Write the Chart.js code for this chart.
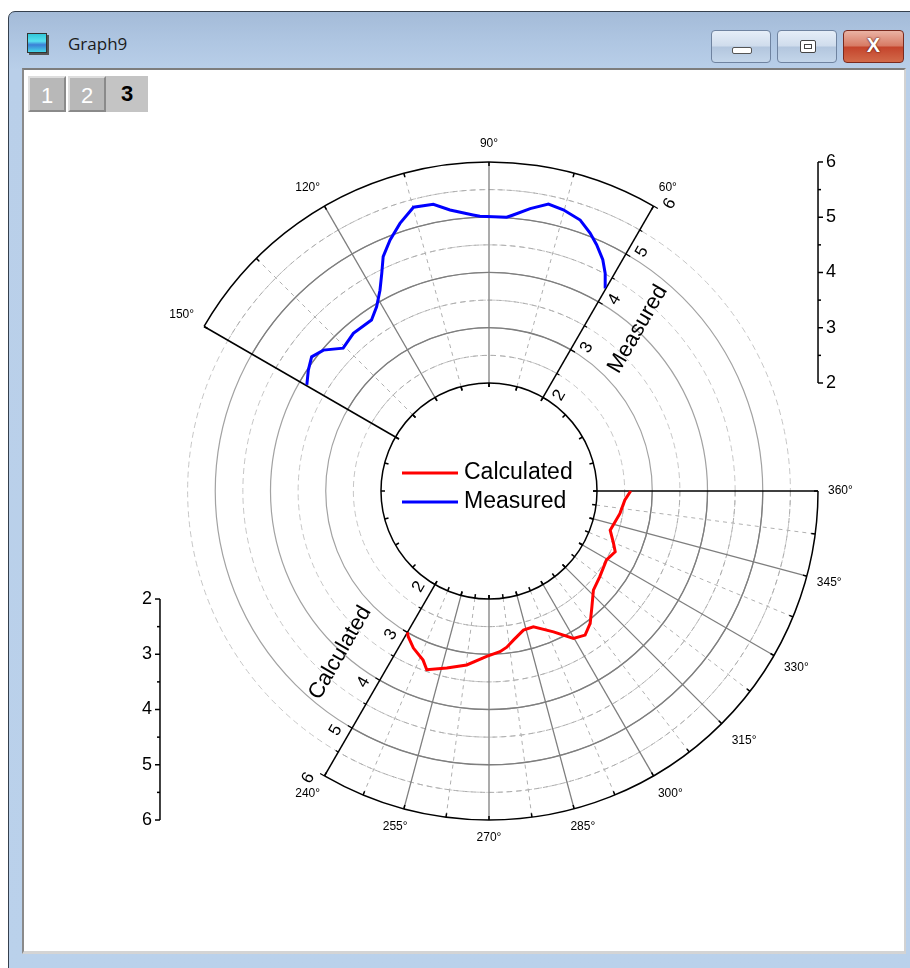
<!DOCTYPE html>
<html><head><meta charset="utf-8">
<script src="https://cdn.jsdelivr.net/npm/chart.js@4.4.1/dist/chart.umd.min.js"></script>
<style>
html,body{margin:0;padding:0;width:910px;height:968px;overflow:hidden;background:#fff;font-family:"Liberation Sans",Arial,sans-serif;}
.abs{position:absolute;box-sizing:border-box;}
#frame{left:8px;top:11px;width:910px;height:970px;border:1px solid #35404e;border-radius:7px 7px 0 0;
 background:linear-gradient(#a4bbd8 0px,#afc6e2 30px,#b9cfe9 58px,#bad1eb 100%);}
#client{left:22px;top:68px;width:884px;height:886px;background:#fff;border-top:2px solid #7d7d7d;border-left:2px solid #8a8a8a;border-right:2px solid #d2d2d2;border-bottom:3px solid #d4d4d4;}
#title{left:68px;top:32px;font-family:"Open Sans","Noto Sans",sans-serif;font-size:17px;color:#1b1b1b;}
#icon{left:27px;top:33px;width:20px;height:20px;border:1px solid #333;background:linear-gradient(#33c6d8,#57e0f0 40%,#3b7fd6 60%,#44d6e8);box-shadow:2px 2px 0 #555;}
.btn{top:30px;height:33px;width:60px;border:1px solid #6f83a0;border-radius:4px;background:linear-gradient(#e6eef8,#cfdcec 48%,#b3c6de 52%,#c4d6ea);}
#bmin{left:711px;}#bmax{left:777px;}
#bclose{left:843px;width:61px;border-color:#7a2a1e;background:linear-gradient(#eab3a4,#d77a64 48%,#c4442c 52%,#d26a4a);}
.ic{position:absolute;box-sizing:border-box;}
.tab{top:76px;height:36px;width:38px;font-size:22px;text-align:center;line-height:36px;}
#t1{left:28px;background:#b8b8b8;color:#fff;border-top:2px solid #dedede;border-left:2px solid #dedede;border-right:2px solid #8a8a8a;border-bottom:2px solid #8a8a8a;}
#t2{left:68px;background:#b8b8b8;color:#fff;border-top:2px solid #dedede;border-left:2px solid #dedede;border-right:2px solid #8a8a8a;border-bottom:2px solid #8a8a8a;}
#t3{left:106px;width:42px;background:#c4c4c4;color:#000;font-weight:bold;}
#c{position:absolute;left:0;top:0;z-index:5;}
</style></head>
<body>
<div id="frame" class="abs"></div>
<div id="client" class="abs"></div>
<div id="icon" class="abs"></div>
<div id="title" class="abs">Graph9</div>
<div id="bmin" class="abs btn"><div class="ic" style="left:20px;top:16px;width:20px;height:7px;border:1px solid #555;border-radius:2px;background:#fff;"></div></div>
<div id="bmax" class="abs btn"><div class="ic" style="left:22px;top:9px;width:16px;height:13px;border:1px solid #444;border-radius:2px;background:#fff;"><div class="ic" style="left:3px;top:3px;width:8px;height:5px;border:1px solid #444;"></div></div></div>
<div id="bclose" class="abs btn"><div class="ic" style="left:0;top:3px;width:59px;text-align:center;font:bold 20px 'Liberation Sans',Arial;color:#fff;text-shadow:0 0 2px #5a1a10,0 0 1px #5a1a10;">X</div></div>
<div id="t1" class="abs tab">1</div>
<div id="t2" class="abs tab">2</div>
<div id="t3" class="abs tab">3</div>
<canvas id="c" width="910" height="968"></canvas>
<script>
// ---------- data ----------
const seriesNames = ['Calculated', 'Measured'];
const measuredAngles = [60.2, 61.9, 63.8, 66.4, 68.6, 71.4, 75.2, 78.3, 81.7, 85.0, 86.3, 91.9, 93.3, 97.9, 101.0, 104.9, 108.4, 111.5, 114.3, 116.2, 118.5, 121.4, 124.5, 130.7, 135.6, 139.6, 142.9, 146.2, 149.8];
const measuredValues = [4.30, 4.51, 4.71, 4.91, 5.06, 5.22, 5.31, 5.35, 5.21, 5.06, 5.01, 5.02, 5.05, 5.18, 5.33, 5.36, 5.15, 4.93, 4.70, 4.44, 4.18, 3.95, 3.80, 3.81, 3.74, 3.98, 4.07, 3.98, 3.86];
const calculatedAngles = [360.0, 356.2, 350.3, 342.1, 337.2, 334.3, 329.6, 322.3, 316.5, 311.6, 307.4, 303.7, 299.8, 294.6, 288.1, 283.9, 279.3, 276.5, 273.9, 269.2, 262.7, 256.6, 250.8, 248.7, 244.3, 241.0, 240.0];
const calculatedValues = [2.61, 2.51, 2.45, 2.35, 2.49, 2.58, 2.51, 2.58, 2.65, 2.85, 3.06, 3.18, 3.12, 2.85, 2.63, 2.64, 2.78, 2.89, 2.96, 3.04, 3.22, 3.34, 3.47, 3.33, 3.20, 3.06, 3.00];
const radialTicks = [2, 3, 4, 5, 6];
const measuredAngleTicks = [60, 90, 120, 150];
const calculatedAngleTicks = [240, 255, 270, 285, 300, 315, 330, 345, 360];

// ---------- layout ----------
const CENTER_PX = [489, 491];
const PX_PER_UNIT = 55.25;
const HOLE = 1.955;            // inner hole radius, in radial units
const R_MIN = 2, R_MAX = 6;
const W = 910, H = 968;
const D = Math.PI / 180;
const rad = v => HOLE + (v - R_MIN);

function toXY(angles, values) {
  return angles.map((a, i) => ({ x: rad(values[i]) * Math.cos(a * D), y: rad(values[i]) * Math.sin(a * D) }));
}

const sectors = [
  { name: 'Measured', from: 60, to: 150, step: 15, labels: measuredAngleTicks, axisAt: 60 },
  { name: 'Calculated', from: 240, to: 360, step: 7.5, labels: calculatedAngleTicks, axisAt: 240 }
];

const FONT = '"Liberation Sans", Arial, sans-serif';

const polarGrid = {
  id: 'polarGrid',
  beforeDatasetsDraw(chart) {
    const { ctx, scales: { x, y } } = chart;
    const cx = x.getPixelForValue(0), cy = y.getPixelForValue(0);
    const S = x.getPixelForValue(1) - cx;
    const rp = v => rad(v) * S;
    const P = (a, r) => [cx + r * Math.cos(a * D), cy - r * Math.sin(a * D)];
    const arc = (r, a1, a2) => { ctx.beginPath(); ctx.arc(cx, cy, r, -a2 * D, -a1 * D); ctx.stroke(); };
    const line = (p, q) => { ctx.beginPath(); ctx.moveTo(p[0], p[1]); ctx.lineTo(q[0], q[1]); ctx.stroke(); };
    ctx.save();
    // full background circles
    for (let v = R_MIN + 0.5; v < R_MAX; v += 0.5) {
      const major = Number.isInteger(v);
      ctx.strokeStyle = major ? '#a2a2a2' : '#c6c6c6';
      ctx.lineWidth = major ? 1.2 : 1;
      ctx.setLineDash(major ? [] : [6, 4]);
      arc(rp(v), 0, 360);
    }
    // sector grids
    sectors.forEach(s => {
      for (let v = R_MIN + 0.5; v < R_MAX; v += 0.5) {
        const major = Number.isInteger(v);
        ctx.strokeStyle = major ? '#7e7e7e' : '#adadad';
        ctx.lineWidth = major ? 1.3 : 1;
        ctx.setLineDash(major ? [] : [5, 4]);
        arc(rp(v), s.from, s.to);
      }
      for (let a = s.from + s.step; a < s.to - 0.01; a += s.step) {
        const major = s.labels.some(l => Math.abs(l - a) < 0.01);
        ctx.strokeStyle = major ? '#7e7e7e' : '#b0b0b0';
        ctx.lineWidth = major ? 1.3 : 1;
        ctx.setLineDash(major ? [] : [4, 4]);
        line(P(a, rp(R_MIN)), P(a, rp(R_MAX)));
      }
    });
    ctx.setLineDash([]);
    // black boundaries
    ctx.strokeStyle = '#000';
    ctx.lineWidth = 1.5;
    arc(rp(R_MIN), 0, 360);
    for (let a = 0; a < 360; a += 15) line(P(a, rp(R_MIN)), P(a, rp(R_MIN) - 4));
    sectors.forEach(s => {
      arc(rp(R_MAX), s.from, s.to);
      line(P(s.from, rp(R_MIN)), P(s.from, rp(R_MAX)));
      line(P(s.to, rp(R_MIN)), P(s.to, rp(R_MAX)));
      for (let a = s.from; a <= s.to + 0.01; a += s.step) {
        line(P(a, rp(R_MAX)), P(a, rp(R_MAX) - 4));
        line(P(a, rp(R_MIN)), P(a, rp(R_MIN) - 4));
      }
    });
    // angle labels
    ctx.fillStyle = '#000';
    ctx.font = '12px ' + FONT;
    ctx.textAlign = 'center';
    ctx.textBaseline = 'middle';
    const clamp = t => Math.max(-1, Math.min(1, t));
    sectors.forEach(s => s.labels.forEach(a => {
      const txt = a + '°';
      const w = ctx.measureText(txt).width;
      const o = P(a, rp(R_MAX));
      const c = Math.cos(a * D), sn = Math.sin(a * D);
      ctx.fillText(txt, o[0] + clamp(1.5 * c) * (w / 2 + 10), o[1] - clamp(1.3 * sn) * 18);
    }));
    // radial axes with rotated labels
    sectors.forEach(s => {
      const th = s.axisAt;
      const perp = [Math.cos((th - 90) * D), -Math.sin((th - 90) * D)];
      const rot = -((th % 180)) * D;
      ctx.strokeStyle = '#000';
      ctx.lineWidth = 1.2;
      for (let v = R_MIN; v <= R_MAX; v += 0.5) {
        const p = P(th, rp(v));
        const len = Number.isInteger(v) ? 5 : 3;
        line(p, [p[0] + perp[0] * len, p[1] + perp[1] * len]);
      }
      ctx.font = '17px ' + FONT;
      radialTicks.forEach(v => {
        const p = P(th, rp(v) + 10);
        ctx.save();
        ctx.translate(p[0] + perp[0] * 13, p[1] + perp[1] * 13);
        ctx.rotate(rot);
        ctx.fillText(String(v), 0, 0);
        ctx.restore();
      });
      const mid = (R_MIN + R_MAX) / 2;
      const t = P(th, rp(mid) - 4);
      ctx.save();
      ctx.translate(t[0] + perp[0] * 48, t[1] + perp[1] * 48);
      ctx.rotate(rot);
      ctx.font = '22px ' + FONT;
      ctx.fillText(s.name, 0, 0);
      ctx.restore();
    });
    // side linear axes (right: Measured, left: Calculated)
    const sideAxis = (xData, sign, labelSide) => {
      const xp = x.getPixelForValue(xData);
      const yp = v => y.getPixelForValue(sign * rad(v));
      ctx.strokeStyle = '#000';
      ctx.lineWidth = 1.5;
      line([xp, yp(R_MIN)], [xp, yp(R_MAX)]);
      for (let v = R_MIN; v <= R_MAX; v += 0.5) {
        const len = Number.isInteger(v) ? 5 : 3;
        line([xp, yp(v)], [xp + labelSide * len, yp(v)]);
      }
      ctx.font = '18px ' + FONT;
      ctx.textAlign = labelSide > 0 ? 'left' : 'right';
      radialTicks.forEach(v => ctx.fillText(String(v), xp + labelSide * 8, yp(v)));
      ctx.textAlign = 'center';
    };
    sideAxis(rad(R_MAX), 1, 1);
    sideAxis(-rad(R_MAX), -1, -1);
    ctx.restore();
  },
  afterDatasetsDraw(chart) {
    const { ctx, scales: { x, y } } = chart;
    const cx = x.getPixelForValue(0), cy = y.getPixelForValue(0);
    ctx.save();
    chart.data.datasets.forEach((ds, i) => {
      const yy = cy - 18 + i * 29;
      ctx.strokeStyle = ds.borderColor;
      ctx.lineWidth = 3;
      ctx.beginPath(); ctx.moveTo(cx - 87, yy); ctx.lineTo(cx - 31, yy); ctx.stroke();
      ctx.fillStyle = '#000';
      ctx.font = '23px ' + FONT;
      ctx.textAlign = 'left';
      ctx.textBaseline = 'middle';
      ctx.fillText(ds.label, cx - 25, yy);
    });
    ctx.restore();
  }
};

new Chart(document.getElementById('c'), {
  type: 'scatter',
  data: {
    datasets: [
      { label: seriesNames[0], data: toXY(calculatedAngles, calculatedValues), borderColor: '#ff0000', backgroundColor: '#ff0000', borderWidth: 3, showLine: true, pointRadius: 0, tension: 0 },
      { label: seriesNames[1], data: toXY(measuredAngles, measuredValues), borderColor: '#0000ff', backgroundColor: '#0000ff', borderWidth: 3, showLine: true, pointRadius: 0, tension: 0 }
    ]
  },
  options: {
    responsive: false, animation: false, devicePixelRatio: 1,
    layout: { padding: 0 },
    plugins: { legend: { display: false }, tooltip: { enabled: false } },
    scales: {
      x: { type: 'linear', display: false, bounds: 'data', min: -CENTER_PX[0] / PX_PER_UNIT, max: (W - CENTER_PX[0]) / PX_PER_UNIT },
      y: { type: 'linear', display: false, bounds: 'data', min: -(H - CENTER_PX[1]) / PX_PER_UNIT, max: CENTER_PX[1] / PX_PER_UNIT }
    }
  },
  plugins: [polarGrid]
});
</script>
</body></html>
